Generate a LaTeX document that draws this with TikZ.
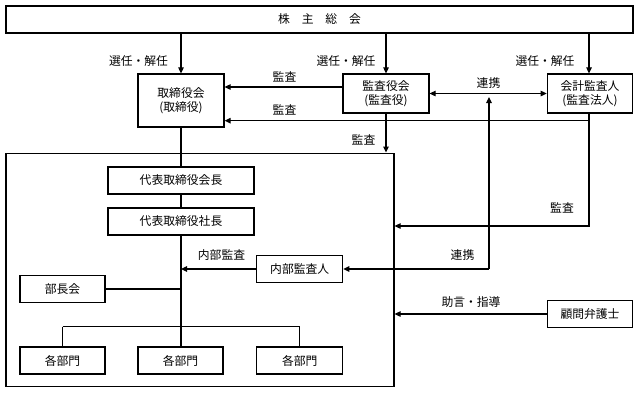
\documentclass[tikz,border=0pt]{standalone}
\usepackage{fontspec}
\setmainfont{Noto Sans CJK JP}
\usetikzlibrary{arrows.meta}
\begin{document}
\begin{tikzpicture}[x=1pt,y=-1pt,
  font=\fontsize{11.8}{13.8}\selectfont,
  box/.style={draw,line width=1.2pt,fill=white,align=center,inner sep=0pt},
  ln/.style={line width=1.1pt},
  arr/.style={ln,-{Triangle[length=6pt,width=5.5pt]}},
  darr/.style={ln,{Triangle[length=6pt,width=5.5pt]}-{Triangle[length=6pt,width=5.5pt]}},
  lbl/.style={inner sep=0pt}]
\useasboundingbox (0,0) rectangle (639,394);
% nodes
\node[box,minimum width=627pt,minimum height=27pt] (top) at (319.5,19.5) {株　主　総　会};
\node[box,minimum width=86pt,minimum height=53pt] (tori) at (181,100.5) {取締役会\\(取締役)};
\node[box,minimum width=86pt,minimum height=39pt] (kansa) at (386,93.5) {監査役会\\(監査役)};
\node[box,minimum width=85.5pt,minimum height=39pt] (kaikei) at (590,93.5) {会計監査人\\(監査法人)};
\node[box,minimum width=388pt,minimum height=233.7pt,fill=none] (outer) at (200,270) {};
\node[box,minimum width=146pt,minimum height=27pt] (kaicho) at (181,180.5) {代表取締役会長};
\node[box,minimum width=146pt,minimum height=27pt] (shacho) at (181,221.5) {代表取締役社長};
\node[box,minimum width=86pt,minimum height=26.5pt] (naibu) at (299.7,269) {内部監査人};
\node[box,minimum width=85pt,minimum height=26.5pt] (bucho) at (62.5,289) {部長会};
\node[box,minimum width=85pt,minimum height=27pt] (bu1) at (62.5,360.5) {各部門};
\node[box,minimum width=85pt,minimum height=27pt] (bu2) at (180.5,360.5) {各部門};
\node[box,minimum width=86pt,minimum height=27pt] (bu3) at (299.7,360.5) {各部門};
\node[box,minimum width=85.5pt,minimum height=26.5pt] (komon) at (590,314) {顧問弁護士};
% coordinates
\coordinate (kk) at (589,120.7);
\coordinate (kk2) at (589,226);
\coordinate (rk) at (489,269);
\coordinate (rkt) at (489,97);
\coordinate (tr1) at (181,269);
\coordinate (tr2) at (181,289);
\coordinate (bus) at (181,326.7);
% connectors
\draw[arr] (tori.north |- top.south) -- (tori.north);
\draw[arr] (kansa.north |- top.south) -- (kansa.north);
\draw[arr] (kaikei.north -| kk) ++(0,-40.5) -- (kaikei.north -| kk);
\draw[arr] (kansa.west |- 0,87) -- (tori.east |- 0,87);
\draw[arr] (kaikei.south -| kk) -- (kk) -- (tori.east |- kk);
\draw[arr] (kk) -- (kk2) -- (outer.east |- kk2);
\draw[arr] (kansa.south) -- (outer.north -| kansa.south);
\draw[darr] (kansa.east) -- (kaikei.west);
\draw[arr] (rk) -- (rkt);
\draw[arr] (rk) -- (naibu.east);
\draw[arr] (naibu.west) -- (tr1);
\draw[ln] (tori.south) -- (kaicho.north);
\draw[ln] (kaicho.south) -- (shacho.north);
\draw[ln] (shacho.south) -- (bus);
\draw[ln] (bucho.east) -- (tr2);
\draw[ln] (bu1.north |- bus) -- (bu3.north |- bus);
\draw[ln] (bu1.north |- bus) -- (bu1.north);
\draw[ln] (bus) -- (bu2.north -| bus);
\draw[ln] (bu3.north |- bus) -- (bu3.north);
\draw[arr] (komon.west) -- (outer.east |- komon.west);
% labels
\node[lbl] (l1) at (138.5,61) {選任・解任};
\node[lbl] (l2) at (346,61) {選任・解任};
\node[lbl] (l3) at (545,61) {選任・解任};
\node[lbl] (l4) at (284.5,77) {監査};
\node[lbl] (l5) at (284.5,110) {監査};
\node[lbl] (l6) at (363.5,140) {監査};
\node[lbl] (l7) at (488.5,83) {連携};
\node[lbl] (l8) at (562,208) {監査};
\node[lbl] (l9) at (462.5,255) {連携};
\node[lbl] (l10) at (221.5,255) {内部監査};
\node[lbl] (l11) at (471,301.7) {助言・指導};
\end{tikzpicture}
\end{document}
